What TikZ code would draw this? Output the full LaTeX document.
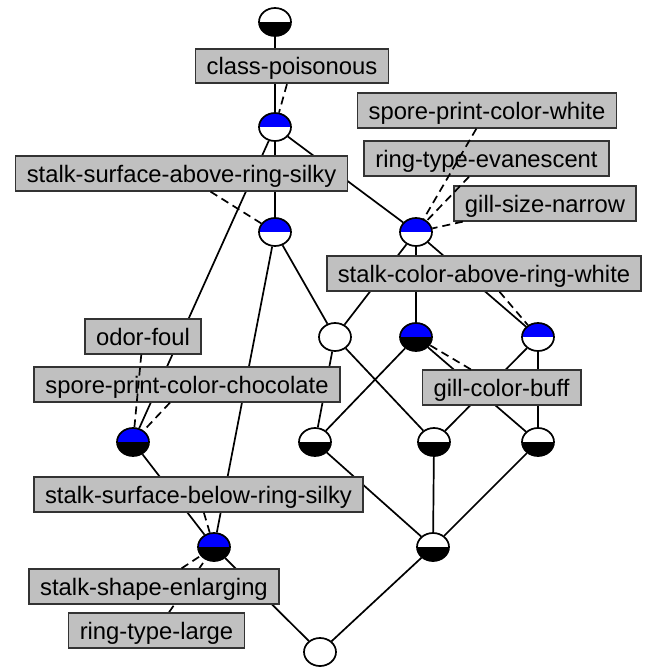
\documentclass[tikz,border=0pt]{standalone}
\usepackage{fontspec}
\setmainfont{Liberation Sans}
\usetikzlibrary{shapes.geometric}
\pgfdeclarelayer{bg}
\pgfsetlayers{bg,main}
\definecolor{boxgray}{HTML}{C0C0C0}
\definecolor{boxline}{HTML}{333333}
\tikzset{
  lbl/.style={draw=boxline, fill=boxgray, line width=1.8pt,
    font=\fontsize{23.8}{28}\selectfont, inner xsep=11.2pt, inner ysep=0pt,
    minimum height=34.5pt, text height=20.5pt, text depth=3.5pt},
  concept/.style 2 args={ellipse, draw=black, line width=1.7pt,
    minimum width=32pt, minimum height=28pt, inner sep=0pt,
    path picture={
      \fill[#2] (path picture bounding box.west) rectangle (path picture bounding box.south east);
      \fill[#1] (path picture bounding box.north west) rectangle (path picture bounding box.east);
    }},
  edge/.style={line width=1.7pt, draw=black},
  dashedge/.style={line width=1.7pt, draw=black, dash pattern=on 8pt off 5pt},
}
\begin{document}
\begin{tikzpicture}[x=1pt,y=-1pt]
\useasboundingbox (0,0) rectangle (650,667);
% concepts
\node[concept={white}{black}] (n0) at (275,22) {};
\node[concept={blue}{white}] (n1) at (275,127) {};
\node[concept={blue}{white}] (n2) at (275,232) {};
\node[concept={blue}{white}] (n3) at (416,232) {};
\node[concept={white}{white}] (n4) at (335,337) {};
\node[concept={blue}{black}] (n5) at (416,337) {};
\node[concept={blue}{white}] (n6) at (538,337) {};
\node[concept={blue}{black}] (n7) at (133,442) {};
\node[concept={white}{black}] (n8) at (315,442) {};
\node[concept={white}{black}] (n9) at (434,442) {};
\node[concept={white}{black}] (n10) at (538,442) {};
\node[concept={blue}{black}] (n11) at (214,547) {};
\node[concept={white}{black}] (n12) at (433,547) {};
\node[concept={white}{white}] (n13) at (320,652) {};
% labels
\node[lbl] (cp) at (292,66) {class-poisonous};
\node[lbl] (ssa) at (181.5,173.5) {stalk-surface-above-ring-silky};
\node[lbl] (rte) at (486.5,158.5) {ring-type-evanescent};
\node[lbl] (spw) at (487,110.5) {spore-print-color-white};
\node[lbl] (gsn) at (545,203.5) {gill-size-narrow};
\node[lbl] (scw) at (484,273.5) {stalk-color-above-ring-white};
\node[lbl] (gcb) at (501.5,387.5) {gill-color-buff};
\node[lbl] (spc) at (187,384.5) {spore-print-color-chocolate};
\node[lbl] (of) at (143,336.5) {odor-foul};
\node[lbl] (ssb) at (198.5,494.5) {stalk-surface-below-ring-silky};
\node[lbl] (sse) at (154,586.5) {stalk-shape-enlarging};
\node[lbl] (rtl) at (156.5,630.5) {ring-type-large};
% edges
\begin{pgfonlayer}{bg}
\draw[edge] (n0) -- (n1);
\draw[edge] (n1) -- (n2);
\draw[edge] (n1) -- (n3);
\draw[edge] (n1) -- (n7);
\draw[edge] (n2) -- (n11);
\draw[edge] (n2) -- (n4);
\draw[edge] (n3) -- (n4);
\draw[edge] (n3) -- (n5);
\draw[edge] (n3) -- (n6);
\draw[edge] (n4) -- (n8);
\draw[edge] (n4) -- (n9);
\draw[edge] (n5) -- (n8);
\draw[edge] (n5) -- (n10);
\draw[edge] (n6) -- (n9);
\draw[edge] (n6) -- (n10);
\draw[edge] (n7) -- (n11);
\draw[edge] (n8) -- (n12);
\draw[edge] (n9) -- (n12);
\draw[edge] (n10) -- (n12);
\draw[edge] (n11) -- (n13);
\draw[edge] (n12) -- (n13);
\draw[dashedge] (rtl) -- (n11);
\end{pgfonlayer}
% label connectors
\draw[dashedge] (cp) -- (n1);
\draw[dashedge] (ssa) -- (n2);
\draw[dashedge] (spw) -- (n3);
\draw[dashedge] (rte) -- (n3);
\draw[dashedge] (gsn) -- (n3);
\draw[dashedge] (scw) -- (n6);
\draw[dashedge] (gcb) -- (n5);
\draw[dashedge] (of) -- (n7);
\draw[dashedge] (spc) -- (n7);
\draw[dashedge] (ssb) -- (n11);
\draw[dashedge] (sse) -- (n11);
\end{tikzpicture}
\end{document}
